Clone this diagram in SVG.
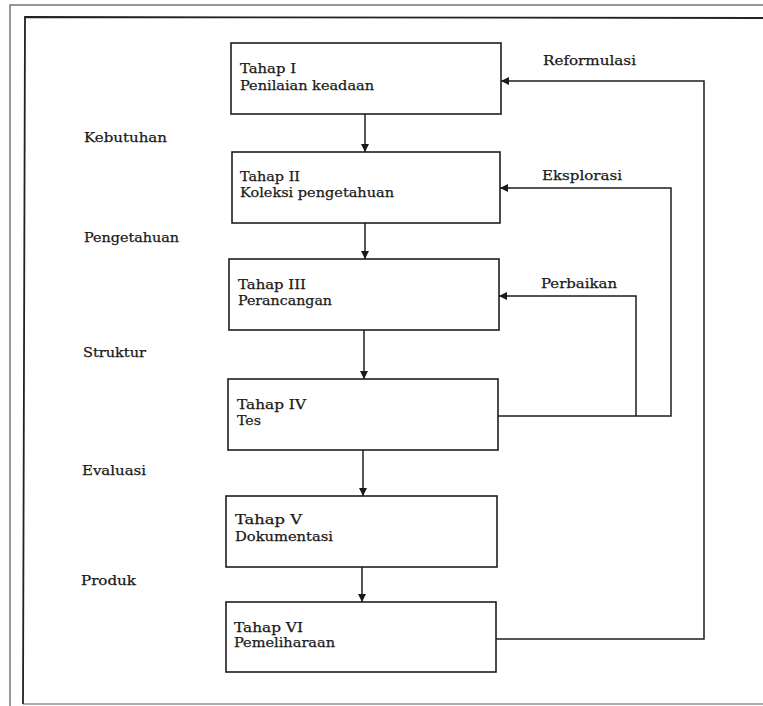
<svg xmlns="http://www.w3.org/2000/svg" width="763" height="706" viewBox="0 0 763 706">
<defs>
<marker id="ah" viewBox="0 0 10 10" refX="10" refY="5" markerWidth="9" markerHeight="8" markerUnits="userSpaceOnUse" orient="auto">
<path d="M0,0 L10,5 L0,10 Z" fill="#1a1a1a"/>
</marker>
<style>
.box{fill:#fff;stroke:#1e1e1e;stroke-width:1.6}
.ln{fill:none;stroke:#1e1e1e;stroke-width:1.5}
.t{font-family:"DejaVu Serif","Liberation Serif",serif;font-size:13px;fill:#1a1a1a;stroke:#1a1a1a;stroke-width:0.25}
</style>
</defs>
<rect width="763" height="706" fill="#fff"/>
<path d="M10,706 L10,5 L763,5" fill="none" stroke="#777" stroke-width="1.5"/>
<path d="M23,704 L25,17 L763,18" fill="none" stroke="#222" stroke-width="1.8"/>
<path d="M23,704 L763,704" fill="none" stroke="#555" stroke-width="1.2"/>

<g id="labels">
<text class="t" x="84" y="142" textLength="83" lengthAdjust="spacingAndGlyphs">Kebutuhan</text>
<text class="t" x="84" y="242" textLength="95" lengthAdjust="spacingAndGlyphs">Pengetahuan</text>
<text class="t" x="83" y="357" textLength="63" lengthAdjust="spacingAndGlyphs">Struktur</text>
<text class="t" x="82" y="475" textLength="64" lengthAdjust="spacingAndGlyphs">Evaluasi</text>
<text class="t" x="81" y="585" textLength="55" lengthAdjust="spacingAndGlyphs">Produk</text>
<text class="t" x="543" y="65" textLength="93" lengthAdjust="spacingAndGlyphs">Reformulasi</text>
<text class="t" x="542" y="180" textLength="80" lengthAdjust="spacingAndGlyphs">Eksplorasi</text>
<text class="t" x="541" y="288" textLength="76" lengthAdjust="spacingAndGlyphs">Perbaikan</text>
</g>

<g id="connectors">
<line class="ln" x1="365" y1="114" x2="365" y2="152" marker-end="url(#ah)"/>
<line class="ln" x1="365" y1="223" x2="365" y2="259" marker-end="url(#ah)"/>
<line class="ln" x1="364" y1="330" x2="364" y2="379" marker-end="url(#ah)"/>
<line class="ln" x1="363" y1="450" x2="363" y2="496" marker-end="url(#ah)"/>
<line class="ln" x1="362" y1="567" x2="362" y2="602" marker-end="url(#ah)"/>
<polyline class="ln" points="496,639 704,639 704,81 501,81" marker-end="url(#ah)"/>
<polyline class="ln" points="498,416 671,416 671,188 500,188" marker-end="url(#ah)"/>
<polyline class="ln" points="636,416 636,296 499,296" marker-end="url(#ah)"/>
</g>

<g id="tahap1">
<rect class="box" x="231" y="43" width="270" height="71"/>
<text class="t" x="240" y="73" textLength="56" lengthAdjust="spacingAndGlyphs">Tahap I</text>
<text class="t" x="240" y="90" textLength="134" lengthAdjust="spacingAndGlyphs">Penilaian keadaan</text>
</g>
<g id="tahap2">
<rect class="box" x="232" y="152" width="268" height="71"/>
<text class="t" x="240" y="181" textLength="60" lengthAdjust="spacingAndGlyphs">Tahap II</text>
<text class="t" x="240" y="197" textLength="154" lengthAdjust="spacingAndGlyphs">Koleksi pengetahuan</text>
</g>
<g id="tahap3">
<rect class="box" x="229" y="259" width="270" height="71"/>
<text class="t" x="238" y="289" textLength="68" lengthAdjust="spacingAndGlyphs">Tahap III</text>
<text class="t" x="238" y="305" textLength="94" lengthAdjust="spacingAndGlyphs">Perancangan</text>
</g>
<g id="tahap4">
<rect class="box" x="228" y="379" width="270" height="71"/>
<text class="t" x="237" y="409" textLength="69" lengthAdjust="spacingAndGlyphs">Tahap IV</text>
<text class="t" x="237" y="425" textLength="24" lengthAdjust="spacingAndGlyphs">Tes</text>
</g>
<g id="tahap5">
<rect class="box" x="226" y="496" width="271" height="71"/>
<text class="t" x="235" y="524" textLength="67" lengthAdjust="spacingAndGlyphs">Tahap V</text>
<text class="t" x="235" y="541" textLength="98" lengthAdjust="spacingAndGlyphs">Dokumentasi</text>
</g>
<g id="tahap6">
<rect class="box" x="226" y="602" width="270" height="70"/>
<text class="t" x="234" y="632" textLength="69" lengthAdjust="spacingAndGlyphs">Tahap VI</text>
<text class="t" x="234" y="647" textLength="101" lengthAdjust="spacingAndGlyphs">Pemeliharaan</text>
</g>
</svg>
